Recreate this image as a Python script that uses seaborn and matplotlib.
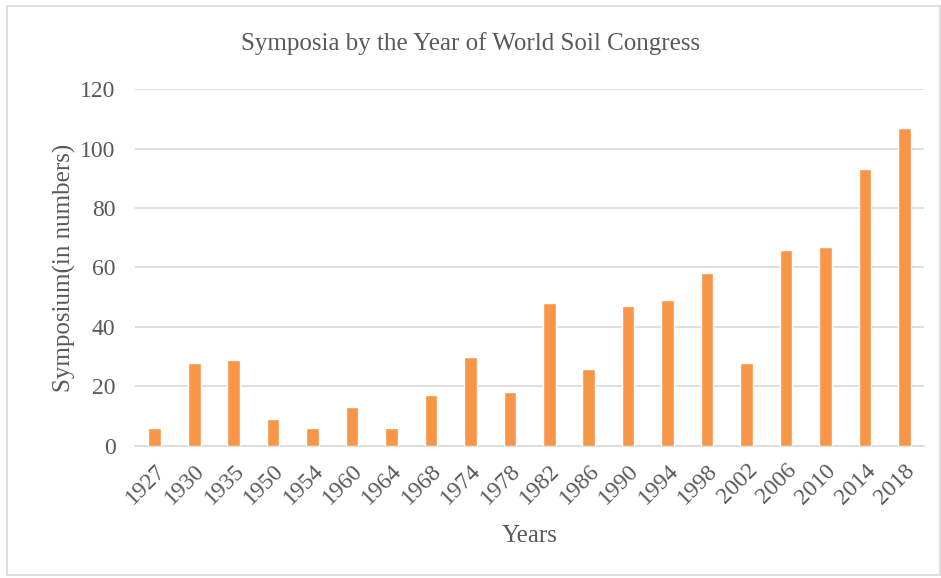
import numpy as np
import pandas as pd
import seaborn as sns
import matplotlib.pyplot as plt
from matplotlib.patches import Rectangle

# données
annees = ["1927", "1930", "1935", "1950", "1954", "1960", "1964", "1968", "1974", "1978",
          "1982", "1986", "1990", "1994", "1998", "2002", "2006", "2010", "2014", "2018"]
symposiums = [6, 28, 29, 9, 6, 13, 6, 17, 30, 18,
              48, 26, 47, 49, 58, 28, 66, 67, 93, 107]

df = pd.DataFrame({"Annee": annees, "Symposium": symposiums})

sns.set_style("white")
plt.rcParams['font.family'] = ['Liberation Serif', 'DejaVu Serif']
gris = "#595959"
ligne = "#D9D9D9"

fig = plt.figure(figsize=(9.41, 5.78), dpi=100)
ax = fig.add_axes([0.1435, 0.2284, 0.982 - 0.1435, 0.846 - 0.2284])

sns.barplot(data=df, x="Annee", y="Symposium", color="#F79646", width=0.32,
            saturation=1, ax=ax, zorder=3)

ax.set_ylim(0, 120)
ax.set_xlim(-0.5, len(annees) - 0.5)
ax.set_yticks(range(0, 121, 20))
ax.yaxis.grid(True, color=ligne, linewidth=1.2, zorder=0)
for s in ["top", "right", "left"]:
    ax.spines[s].set_visible(False)
ax.spines["bottom"].set_color(ligne)
ax.spines["bottom"].set_linewidth(1.2)

# graduations entre les catégories (style Excel)
ax.set_xticks(np.arange(-0.5, len(annees), 1), minor=True)
ax.tick_params(axis="x", which="minor", length=6, color=ligne, width=1.2)
ax.tick_params(axis="x", which="major", length=0, labelsize=17, labelcolor=gris, pad=10)
ax.tick_params(axis="y", length=0, labelsize=17, labelcolor=gris, pad=14)
plt.setp(ax.get_xticklabels(), rotation=45, ha="right", rotation_mode="anchor")

fig.suptitle("Symposia by the Year of World Soil Congress", fontsize=18, color=gris,
             x=0.5, y=1 - 44 / 578, va="center")
ax.set_xlabel("Years", fontsize=18, color=gris, labelpad=12)
ax.set_ylabel("Symposium(in numbers)", fontsize=18, color=gris, labelpad=3)

# cadre gris autour du graphique
fig.patches.append(Rectangle((7 / 941, 3 / 578), 933 / 941, 569 / 578, transform=fig.transFigure,
                             fill=False, edgecolor=ligne, linewidth=1.2))

plt.savefig("out.png", dpi=100)
